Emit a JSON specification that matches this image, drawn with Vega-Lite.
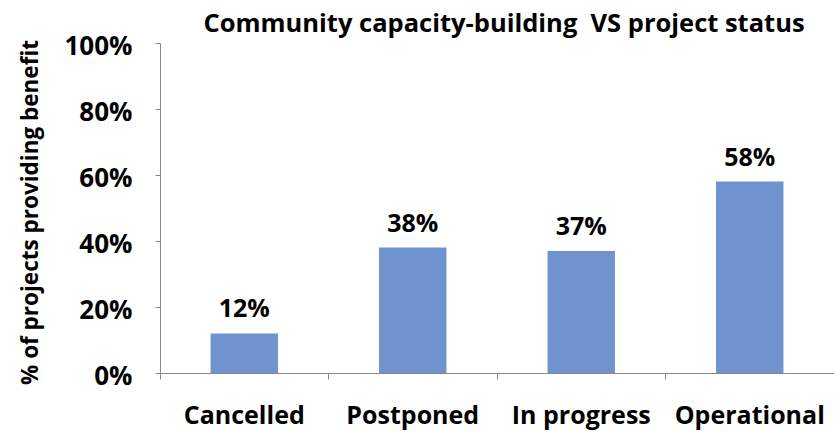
{
  "$schema": "https://vega.github.io/schema/vega-lite/v6.json",
  "width": 674,
  "height": 330,
  "autosize": {"type": "none"},
  "padding": {"left": 160, "top": 43, "right": 0, "bottom": 58},
  "background": "white",
  "config": {"view": {"stroke": null}, "font": "Open Sans"},
  "title": {
    "text": "Community capacity-building \u00a0VS project status",
    "fontSize": 25.5,
    "fontWeight": "bold",
    "font": "Open Sans",
    "color": "#000000",
    "anchor": "middle",
    "dx": 7,
    "offset": -4
  },
  "data": {
    "values": [
      {"status": "Cancelled", "value": 0.12},
      {"status": "Postponed", "value": 0.38},
      {"status": "In progress", "value": 0.37},
      {"status": "Operational", "value": 0.58}
    ]
  },
  "encoding": {
    "x": {
      "field": "status",
      "type": "nominal",
      "sort": null,
      "scale": {"paddingInner": 0, "paddingOuter": 0},
      "axis": {
        "title": null,
        "labelAngle": 0,
        "labelFontSize": 25,
        "labelFontWeight": "bold",
        "labelColor": "#000000",
        "labelPadding": 24,
        "domainColor": "#888888",
        "tickColor": "#888888",
        "tickSize": 6,
        "bandPosition": 0
      }
    },
    "y": {
      "field": "value",
      "type": "quantitative",
      "scale": {"domain": [0, 1]},
      "axis": {
        "title": "% of projects providing benefit",
        "titleFontSize": 22.5,
        "titleFontWeight": "bold",
        "titleColor": "#000000",
        "titleX": -130,
        "titleY": 169,
        "titleAngle": -90,
        "titleBaseline": "middle",
        "titleAlign": "center",
        "format": ".0%",
        "values": [0, 0.2, 0.4, 0.6, 0.8, 1],
        "labelFontSize": 26,
        "labelFontWeight": "bold",
        "labelColor": "#000000",
        "labelPadding": 23,
        "labelOffset": 3,
        "domainColor": "#888888",
        "tickColor": "#888888",
        "tickSize": 5,
        "grid": false
      }
    }
  },
  "layer": [
    {"mark": {"type": "bar", "color": "#6E93CE", "width": {"band": 0.4}}},
    {
      "mark": {"type": "text", "fontSize": 25, "fontWeight": "bold", "color": "#000000", "baseline": "alphabetic", "dy": -16},
      "encoding": {"text": {"field": "value", "type": "quantitative", "format": ".0%"}}
    }
  ]
}
